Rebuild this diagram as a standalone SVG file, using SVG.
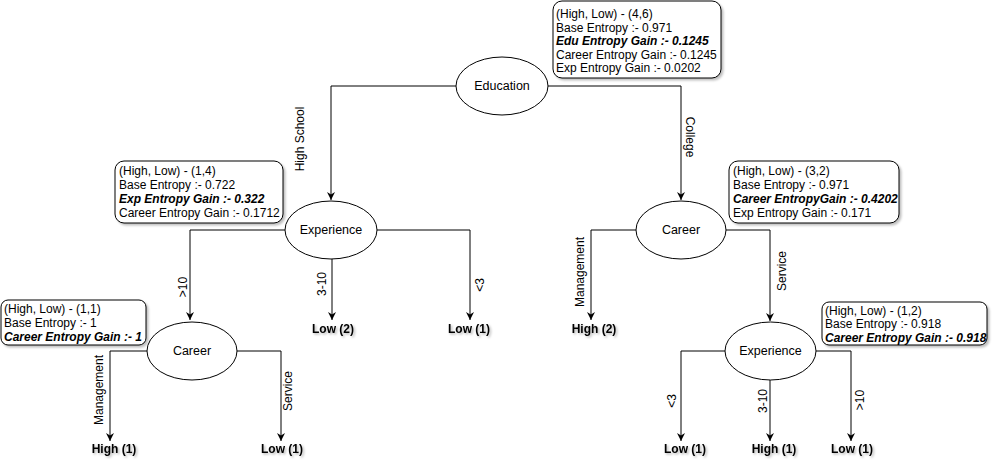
<svg xmlns="http://www.w3.org/2000/svg" width="996" height="467" viewBox="0 0 996 467">
<style>
.node{fill:#fff;stroke:#000;stroke-width:1}
.box{fill:#fff;stroke:#000;stroke-width:1;filter:url(#sh)}
.lbl{font-family:"Liberation Sans",Arial,sans-serif;font-size:12px;fill:#000}
.nl{font-family:"Liberation Sans",Arial,sans-serif;font-size:12.5px;fill:#000;text-anchor:middle}
.leaf{font-family:"Liberation Sans",Arial,sans-serif;font-size:12px;font-weight:bold;fill:#000;text-anchor:middle;filter:url(#tsh)}
.el{font-family:"Liberation Sans",Arial,sans-serif;font-size:12px;fill:#000;text-anchor:middle}
.bi{font-weight:bold;font-style:italic}
.edge{fill:none;stroke:#000;stroke-width:1;marker-end:url(#arr)}
</style>
<defs>
<marker id="arr" markerUnits="userSpaceOnUse" markerWidth="10" markerHeight="10" refX="8" refY="4" orient="auto">
<path d="M0,0 L8,4 L0,8 L2.5,4 Z" fill="#000"/>
</marker>
<filter id="sh" x="-5%" y="-5%" width="115%" height="130%">
<feDropShadow dx="2" dy="2" stdDeviation="1" flood-color="#000" flood-opacity="0.25"/>
</filter>
<filter id="tsh" x="-10%" y="-30%" width="130%" height="180%">
<feDropShadow dx="1.5" dy="1.5" stdDeviation="1" flood-color="#000" flood-opacity="0.3"/>
</filter>
</defs>

<g id="connectors">
<path class="edge" d="M456,86 H331 V200"/>
<path class="edge" d="M548,86 H681 V200"/>
<path class="edge" d="M285,230 H190 V320"/>
<path class="edge" d="M332,259 V320"/>
<path class="edge" d="M377,230 H470 V320"/>
<path class="edge" d="M636,230 H591 V320"/>
<path class="edge" d="M726,230 H770 V321"/>
<path class="edge" d="M147,351 H110 V441"/>
<path class="edge" d="M237,351 H281 V441"/>
<path class="edge" d="M725,351 H681 V441"/>
<path class="edge" d="M770,380 V441"/>
<path class="edge" d="M816,351 H851 V441"/>
<text class="el" transform="translate(304,139) rotate(-90)">High School</text>
<text class="el" transform="translate(686,137) rotate(90)">College</text>
<text class="el" transform="translate(187,287) rotate(-90)">&gt;10</text>
<text class="el" transform="translate(326,284) rotate(-90)">3-10</text>
<text class="el" transform="translate(484,285) rotate(-90)">&lt;3</text>
<text class="el" transform="translate(584,272) rotate(-90)">Management</text>
<text class="el" transform="translate(786,271) rotate(-90)">Service</text>
<text class="el" transform="translate(103,390) rotate(-90)">Management</text>
<text class="el" transform="translate(292,391) rotate(-90)">Service</text>
<text class="el" transform="translate(676,401) rotate(-90)">&lt;3</text>
<text class="el" transform="translate(767,401) rotate(-90)">3-10</text>
<text class="el" transform="translate(864,400) rotate(-90)">&gt;10</text>
</g>

<g id="education">
<ellipse class="node" cx="502" cy="86" rx="46" ry="29"/>
<text class="nl" x="502" y="90">Education</text>
</g>
<g id="info-root">
<rect class="box" x="553" y="1" width="168" height="77" rx="9"/>
<text class="lbl" x="556" y="18">(High, Low) - (4,6)</text>
<text class="lbl" x="556" y="31.5">Base Entropy :- 0.971</text>
<text class="lbl bi" x="556" y="45">Edu Entropy Gain :- 0.1245</text>
<text class="lbl" x="556" y="58.5">Career Entropy Gain :- 0.1245</text>
<text class="lbl" x="556" y="72">Exp Entropy Gain :- 0.0202</text>
</g>

<g id="experience-1">
<ellipse class="node" cx="331" cy="230" rx="46" ry="29"/>
<text class="nl" x="331" y="234">Experience</text>
</g>
<g id="info-exp1">
<rect class="box" x="115" y="161" width="168" height="62" rx="9"/>
<text class="lbl" x="119" y="175">(High, Low) - (1,4)</text>
<text class="lbl" x="119" y="189">Base Entropy :- 0.722</text>
<text class="lbl bi" x="119" y="203">Exp Entropy Gain :- 0.322</text>
<text class="lbl" x="119" y="217">Career Entropy Gain :- 0.1712</text>
</g>

<g id="career-1">
<ellipse class="node" cx="681" cy="230" rx="45" ry="29"/>
<text class="nl" x="681" y="234">Career</text>
</g>
<g id="info-career1">
<rect class="box" x="729" y="161" width="170" height="62" rx="9"/>
<text class="lbl" x="733" y="175">(High, Low) - (3,2)</text>
<text class="lbl" x="733" y="189">Base Entropy :- 0.971</text>
<text class="lbl bi" x="733" y="203">Career EntropyGain :- 0.4202</text>
<text class="lbl" x="733" y="217">Exp Entropy Gain :- 0.171</text>
</g>

<g id="career-2">
<ellipse class="node" cx="192" cy="351" rx="45" ry="29"/>
<text class="nl" x="192" y="355">Career</text>
</g>
<g id="info-career2">
<rect class="box" x="1" y="300" width="145" height="45" rx="7"/>
<text class="lbl" x="4" y="313">(High, Low) - (1,1)</text>
<text class="lbl" x="4" y="327">Base Entropy :- 1</text>
<text class="lbl bi" x="4" y="341">Career Entropy Gain :- 1</text>
</g>

<g id="experience-2">
<ellipse class="node" cx="770.5" cy="351" rx="45.5" ry="29"/>
<text class="nl" x="770.5" y="355">Experience</text>
</g>
<g id="info-exp2">
<rect class="box" x="822" y="302" width="165" height="43" rx="7"/>
<text class="lbl" x="825" y="315">(High, Low) - (1,2)</text>
<text class="lbl" x="825" y="328">Base Entropy :- 0.918</text>
<text class="lbl bi" x="825" y="342">Career Entropy Gain :- 0.918</text>
</g>

<g id="leaf-low2"><text class="leaf" x="333" y="333">Low (2)</text></g>
<g id="leaf-low1-a"><text class="leaf" x="469" y="333">Low (1)</text></g>
<g id="leaf-high2"><text class="leaf" x="594" y="333">High (2)</text></g>
<g id="leaf-high1-a"><text class="leaf" x="114" y="453">High (1)</text></g>
<g id="leaf-low1-b"><text class="leaf" x="282" y="453">Low (1)</text></g>
<g id="leaf-low1-c"><text class="leaf" x="685" y="453">Low (1)</text></g>
<g id="leaf-high1-b"><text class="leaf" x="774" y="453">High (1)</text></g>
<g id="leaf-low1-d"><text class="leaf" x="852" y="453">Low (1)</text></g>
</svg>
